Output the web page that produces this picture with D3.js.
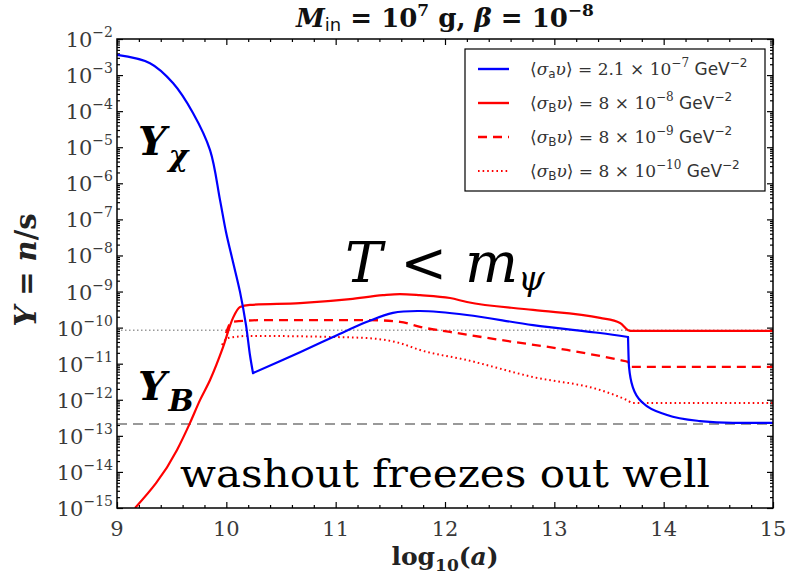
<!DOCTYPE html>
<html><head><meta charset="utf-8">
<script src="https://cdn.jsdelivr.net/npm/d3@7"></script>
<style>
body{margin:0;background:#fff;}
svg{display:block;}
</style></head>
<body>
<svg id="chart" width="787" height="581"></svg>
<script>
// ---- data (x = log10(a), y = log10(Y)) ----
const blueX = [9.000,9.302,9.512,9.695,9.851,9.942,9.997,10.061,10.125,10.180,10.216,10.244,10.674,10.976,11.287,11.524,11.771,12.201,12.805,13.418,13.674,13.683,13.720,13.811,14.031,14.332,14.634,15.000];
const blueY = [-2.44,-2.67,-3.22,-4.05,-5.08,-6.46,-7.35,-8.18,-9.01,-9.93,-10.76,-11.26,-10.68,-10.26,-9.84,-9.59,-9.54,-9.65,-9.93,-10.15,-10.26,-11.09,-11.67,-12.09,-12.42,-12.59,-12.64,-12.64];
const redSolidX = [9.165,9.549,9.668,9.759,9.851,9.970,10.061,10.125,10.216,10.674,11.131,11.433,11.588,11.771,12.046,12.201,12.805,13.418,13.601,13.674,13.692,15.000];
const redSolidY = [-15.0,-13.39,-12.64,-12.01,-11.45,-10.54,-9.73,-9.43,-9.37,-9.32,-9.21,-9.10,-9.07,-9.10,-9.18,-9.29,-9.51,-9.73,-9.87,-10.07,-10.09,-10.09];
const redDashX = [9.997,10.052,10.372,11.287,11.588,11.771,12.046,12.503,13.116,13.601,13.674,13.692,15.000];
const redDashY = [-10.15,-9.84,-9.79,-9.79,-9.84,-9.98,-10.12,-10.34,-10.62,-10.90,-10.95,-11.09,-11.09];
const redDotX = [9.960,10.015,10.216,10.976,11.287,11.588,11.771,12.201,12.805,13.418,13.665,13.720,15.000];
const redDotY = [-10.48,-10.29,-10.23,-10.26,-10.29,-10.43,-10.62,-10.90,-11.37,-11.73,-12.01,-12.09,-12.09];
const grayDottedY = -10.07;
const grayDashedY = -12.67;
const xTicks = [9,10,11,12,13,14,15];
const yTickExps = [-2,-3,-4,-5,-6,-7,-8,-9,-10,-11,-12,-13,-14,-15];
const legendLabels = [
  {sub:"a", coef:"2.1", exp:"−7"},
  {sub:"B", coef:"8", exp:"−8"},
  {sub:"B", coef:"8", exp:"−9"},
  {sub:"B", coef:"8", exp:"−10"}
];

// ---- layout ----
const svg = d3.select("#chart");
const L=117, R=773, T=39, B=508;
const x = d3.scaleLinear().domain([9,15]).range([L,R]);
const y = d3.scaleLog().domain([1e-15,1e-2]).range([B,T]);
const serif = "DejaVu Serif";
const sans = "DejaVu Sans";

const majors = yTickExps.map(e=>Math.pow(10,e));
const minors = [];
for(let e=-15;e<-2;e++) for(let k=2;k<=9;k++) minors.push(k*Math.pow(10,e));
const xMinor = d3.range(9,15.001,0.2).filter(v=>Math.abs(v-Math.round(v))>1e-6);

function styleAxis(g){ g.select(".domain").remove(); g.selectAll("line").attr("stroke","#000").attr("stroke-width",1.2); g.selectAll("text").remove(); }
svg.append("g").attr("transform",`translate(${L},0)`).call(d3.axisLeft(y).tickValues(majors).tickSize(-6)).call(styleAxis);
svg.append("g").attr("transform",`translate(${L},0)`).call(d3.axisLeft(y).tickValues(minors).tickSize(-3)).call(styleAxis);
svg.append("g").attr("transform",`translate(${R},0)`).call(d3.axisRight(y).tickValues(majors).tickSize(-6)).call(styleAxis);
svg.append("g").attr("transform",`translate(${R},0)`).call(d3.axisRight(y).tickValues(minors).tickSize(-3)).call(styleAxis);
svg.append("g").attr("transform",`translate(0,${B})`).call(d3.axisBottom(x).tickValues(xTicks).tickSize(-6)).call(styleAxis);
svg.append("g").attr("transform",`translate(0,${B})`).call(d3.axisBottom(x).tickValues(xMinor).tickSize(-3)).call(styleAxis);
svg.append("g").attr("transform",`translate(0,${T})`).call(d3.axisTop(x).tickValues(xTicks).tickSize(-6)).call(styleAxis);
svg.append("g").attr("transform",`translate(0,${T})`).call(d3.axisTop(x).tickValues(xMinor).tickSize(-3)).call(styleAxis);

// y tick labels
yTickExps.forEach(e=>{
  const t = svg.append("text").attr("x",L-4).attr("y",y(Math.pow(10,e))+8)
    .attr("text-anchor","end").attr("font-family",serif).attr("font-size",21).attr("fill","#3a3a3a");
  t.append("tspan").text("10");
  t.append("tspan").attr("dy",-10).attr("font-size",14).text("−"+Math.abs(e));
});
// x tick labels
xTicks.forEach(v=>{
  svg.append("text").attr("x",x(v)).attr("y",B+28).attr("text-anchor","middle")
    .attr("font-family",serif).attr("font-size",21).attr("fill","#3a3a3a").text(v);
});

// reference lines
svg.append("line").attr("x1",L).attr("x2",R).attr("y1",y(Math.pow(10,grayDottedY))).attr("y2",y(Math.pow(10,grayDottedY)))
  .attr("stroke","#999").attr("stroke-width",1.5).attr("stroke-dasharray","1.5,2.5");
svg.append("line").attr("x1",L).attr("x2",R).attr("y1",y(Math.pow(10,grayDashedY))).attr("y2",y(Math.pow(10,grayDashedY)))
  .attr("stroke","#999").attr("stroke-width",2).attr("stroke-dasharray","10,6");

// curves
svg.append("clipPath").attr("id","clip").append("rect").attr("x",L).attr("y",T).attr("width",R-L).attr("height",B-T);
const lineM = d3.line().x(d=>x(d[0])).y(d=>y(Math.pow(10,d[1]))).curve(d3.curveMonotoneX);
const lineS = d3.line().x(d=>x(d[0])).y(d=>y(Math.pow(10,d[1]))).curve(d3.curveCatmullRom.alpha(0.5));
const plot = svg.append("g").attr("clip-path","url(#clip)");
function zip(a,b){return a.map((v,i)=>[v,b[i]]);}
plot.append("path").attr("d",lineM(zip(redDotX,redDotY))).attr("fill","none").attr("stroke","#ff0000").attr("stroke-width",2).attr("stroke-dasharray","1.6,3");
plot.append("path").attr("d",lineM(zip(redDashX,redDashY))).attr("fill","none").attr("stroke","#ff0000").attr("stroke-width",2.3).attr("stroke-dasharray","9,6");
plot.append("path").attr("d",lineM(zip(redSolidX,redSolidY))).attr("fill","none").attr("stroke","#ff0000").attr("stroke-width",2.2);
// blue drawn in pieces: smooth fall, linear-ish rise/plateau, cliff + tail
const bp = zip(blueX,blueY);
const iMin = blueY.indexOf(d3.min(blueY.slice(0,15)));
const iCliff = 20;
[[lineS,bp.slice(0,iMin+1)],[lineS,bp.slice(iMin,iCliff+1)],[lineM,bp.slice(iCliff)]].forEach(([gen,pts])=>{
  plot.append("path").attr("d",gen(pts)).attr("fill","none").attr("stroke","#0000ff").attr("stroke-width",2.2).attr("stroke-linecap","round").attr("stroke-linejoin","round");
});

// frame
svg.append("rect").attr("x",L).attr("y",T).attr("width",R-L).attr("height",B-T).attr("fill","none").attr("stroke","#000").attr("stroke-width",1.5);

// legend
const lg = svg.append("g");
lg.append("rect").attr("x",465).attr("y",49).attr("width",300).attr("height",142).attr("fill","#fff").attr("stroke","#000").attr("stroke-width",1.2);
const legStyles = [
  {c:"#0000ff",dash:null,w:2.4},{c:"#ff0000",dash:null,w:2.4},{c:"#ff0000",dash:"9,6",w:2.4},{c:"#ff0000",dash:"1.6,3",w:2}
];
legendLabels.forEach((d,i)=>{
  const yy = 69 + i*34;
  const ln = lg.append("line").attr("x1",478).attr("x2",509).attr("y1",yy).attr("y2",yy).attr("stroke",legStyles[i].c).attr("stroke-width",legStyles[i].w);
  if(legStyles[i].dash) ln.attr("stroke-dasharray",legStyles[i].dash);
  const t = lg.append("text").attr("x",530).attr("y",yy+6).attr("font-family",serif).attr("font-size",17).attr("fill","#333");
  t.append("tspan").text("⟨");
  t.append("tspan").attr("font-style","italic").text("σ");
  t.append("tspan").attr("font-family",sans).attr("font-size",12).attr("dy",3).text(d.sub);
  t.append("tspan").attr("font-style","italic").attr("dy",-3).text("υ");
  t.append("tspan").text("⟩ = "+d.coef+" × 10");
  t.append("tspan").attr("font-size",12).attr("dy",-8).text(d.exp);
  t.append("tspan").attr("font-family",sans).attr("font-size",17).attr("dy",8).text(" GeV");
  t.append("tspan").attr("font-family",sans).attr("font-size",12).attr("dy",-8).text("−2");
});

// title
const tt = svg.append("text").attr("x",445).attr("y",27).attr("text-anchor","middle").attr("font-family",serif).attr("font-size",26).attr("font-weight","bold").attr("fill","#111");
tt.append("tspan").attr("font-style","italic").text("M");
tt.append("tspan").attr("font-size",18).attr("dy",4).attr("font-family",sans).attr("font-weight","normal").text("in");
tt.append("tspan").attr("dy",-4).text(" = 10");
tt.append("tspan").attr("font-size",17).attr("dy",-11).text("7");
tt.append("tspan").attr("dy",11).text(" g, ");
tt.append("tspan").attr("font-style","italic").text("β");
tt.append("tspan").text(" = 10");
tt.append("tspan").attr("font-size",17).attr("dy",-11).text("−8");

// axis labels
const xl = svg.append("text").attr("x",445).attr("y",565).attr("text-anchor","middle").attr("font-family",serif).attr("font-size",25).attr("font-weight","bold").attr("fill","#222");
xl.append("tspan").text("log");
xl.append("tspan").attr("font-size",17).attr("dy",6).text("10");
xl.append("tspan").attr("dy",-6).text("(");
xl.append("tspan").attr("font-style","italic").text("a");
xl.append("tspan").text(")");
const yl = svg.append("text").attr("transform","translate(36,270) rotate(-90)").attr("text-anchor","middle").attr("font-family",serif).attr("font-size",29).attr("font-weight","bold").attr("fill","#222");
yl.append("tspan").attr("font-style","italic").text("Y");
yl.append("tspan").text(" = ");
yl.append("tspan").attr("font-style","italic").text("n");
yl.append("tspan").text("/s");

// annotations
function yLabel(xx,yy,sub){
  const t = svg.append("text").attr("x",xx).attr("y",yy).attr("font-family",serif).attr("font-size",40).attr("font-weight","bold").attr("font-style","italic").attr("fill","#000");
  t.append("tspan").text("Y");
  t.append("tspan").attr("font-size",30).attr("dy",11).attr("dx",2).text(sub);
}
yLabel(138,155,"χ");
yLabel(138,400,"B");
const tm = svg.append("text").attr("x",345).attr("y",282).attr("font-family",serif).attr("font-size",56).attr("fill","#000");
tm.append("tspan").attr("font-style","italic").text("T");
tm.append("tspan").text(" < ");
tm.append("tspan").attr("font-style","italic").text("m");
tm.append("tspan").attr("font-style","italic").attr("font-size",34).attr("dy",8).text("ψ");
svg.append("text").attr("x",180).attr("y",487).attr("font-family",serif).attr("font-size",40)
  .attr("textLength",530).attr("lengthAdjust","spacingAndGlyphs").attr("fill","#000").text("washout freezes out well");
</script>
</body></html>
